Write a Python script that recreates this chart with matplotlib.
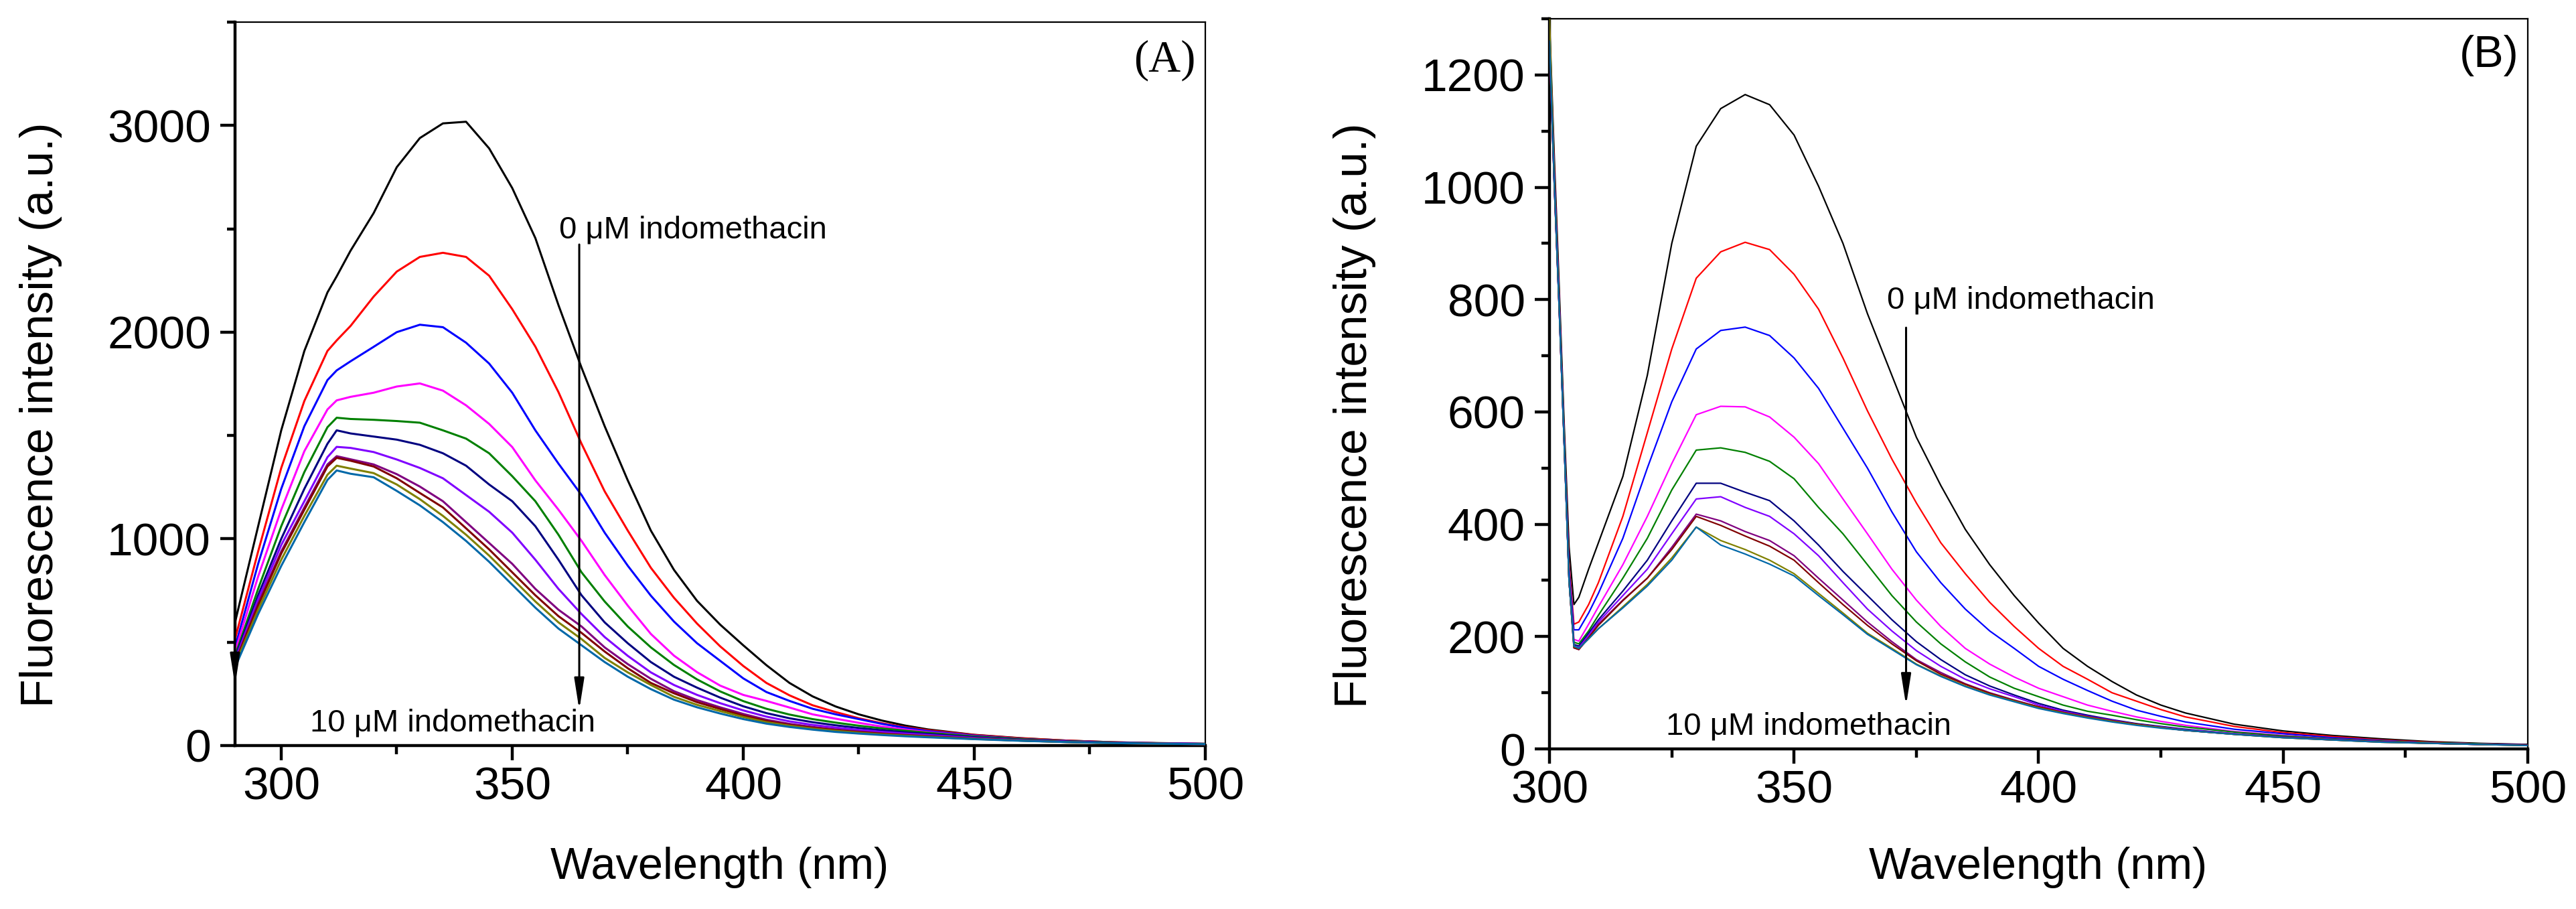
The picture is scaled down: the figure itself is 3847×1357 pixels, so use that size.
import matplotlib
matplotlib.use("Agg")
import matplotlib.pyplot as plt
from matplotlib.ticker import MultipleLocator

plt.rcParams['font.family'] = ['Liberation Sans', 'DejaVu Sans']

# ---------------- Panel A data ----------------
wl_a = [290, 295, 300, 305, 310, 312, 315, 320, 325, 330, 335, 340, 345, 350, 355, 360,
        365, 370, 375, 380, 385, 390, 395, 400, 405, 410, 415, 420, 425, 430, 435,
        440, 450, 460, 470, 480, 490, 500]

a_0uM = [596, 1061, 1525, 1909, 2192, 2270, 2394, 2576, 2798, 2939, 3010, 3018, 2889, 2697, 2455, 2131,
         1828, 1545, 1283, 1040, 850, 700, 585, 485, 389, 303, 238, 189, 151, 121, 97,
         78, 52, 36, 24, 16, 12, 9]
a_1uM = [515, 939, 1343, 1667, 1909, 1960, 2030, 2172, 2293, 2364, 2384, 2364, 2273, 2111, 1930, 1710,
         1460, 1230, 1040, 860, 715, 590, 480, 385, 303, 243, 195, 162, 132, 108, 89,
         74, 51, 35, 24, 16, 11, 8]
a_2uM = [475, 879, 1242, 1545, 1768, 1815, 1859, 1929, 2000, 2036, 2024, 1949, 1848, 1707, 1525, 1364,
         1212, 1030, 870, 725, 600, 495, 410, 325, 259, 216, 178, 151, 128, 105, 86,
         70, 48, 32, 22, 15, 11, 8]
a_3uM = [455, 818, 1141, 1424, 1626, 1670, 1687, 1707, 1737, 1752, 1717, 1646, 1556, 1444, 1283, 1141,
         990, 825, 677, 540, 435, 355, 290, 245, 216, 184, 151, 130, 110, 92, 78,
         65, 45, 30, 21, 14, 11, 8]
a_4uM = [434, 758, 1061, 1323, 1540, 1586, 1580, 1576, 1570, 1562, 1525, 1485, 1414, 1303, 1182, 1020,
         838, 697, 576, 475, 390, 320, 262, 215, 178, 150, 128, 111, 96, 83, 72,
         62, 44, 31, 21, 15, 10, 7]
a_5uM = [424, 727, 1000, 1242, 1460, 1525, 1510, 1495, 1480, 1455, 1414, 1354, 1263, 1182, 1061, 899,
         727, 596, 495, 404, 333, 280, 232, 190, 157, 132, 113, 98, 85, 74, 64,
         56, 40, 28, 20, 14, 10, 7]
a_6uM = [414, 707, 970, 1182, 1395, 1445, 1440, 1420, 1384, 1343, 1293, 1212, 1131, 1030, 899, 758,
         636, 525, 434, 354, 293, 245, 205, 170, 140, 117, 100, 87, 76, 66, 58,
         51, 37, 26, 19, 13, 10, 7]
a_7uM = [404, 687, 939, 1152, 1360, 1400, 1385, 1360, 1313, 1253, 1182, 1081, 980, 879, 758, 657,
         576, 475, 394, 323, 263, 220, 185, 153, 125, 105, 90, 78, 68, 59, 52,
         46, 34, 25, 18, 13, 9, 7]
a_8uM = [398, 677, 929, 1141, 1350, 1392, 1378, 1350, 1293, 1222, 1152, 1051, 949, 838, 727, 626,
         545, 455, 374, 303, 253, 210, 177, 145, 119, 100, 86, 74, 65, 57, 50,
         44, 33, 24, 17, 12, 9, 7]
a_9uM = [390, 657, 899, 1111, 1310, 1354, 1340, 1318, 1263, 1192, 1111, 1020, 919, 808, 697, 596,
         515, 424, 354, 293, 236, 197, 167, 138, 113, 96, 82, 71, 62, 54, 48,
         42, 32, 24, 17, 12, 9, 7]
a_10uM = [378, 636, 869, 1081, 1285, 1331, 1315, 1298, 1232, 1162, 1081, 990, 889, 778, 667, 566,
          485, 404, 333, 273, 222, 185, 155, 128, 106, 90, 77, 66, 58, 51, 45,
          40, 31, 23, 17, 12, 9, 7]

# ---------------- Panel B data ----------------
wl_b = [300, 301, 302, 303, 304, 305, 306, 308, 310, 315, 320, 325, 330, 335, 340,
        345, 350, 355, 360, 365, 370, 375, 380, 385, 390, 395, 400, 405, 410, 415,
        420, 425, 430, 440, 450, 460, 470, 480, 490, 500]

b_0uM = [1300, 1050, 820, 580, 360, 257, 270, 320, 367, 485, 665, 900, 1073, 1140, 1165,
         1147, 1093, 1002, 900, 775, 665, 555, 469, 391, 328, 273, 224, 179, 147, 120,
         96, 78, 64, 44, 32, 24, 18, 13, 10, 8]
b_1uM = [1280, 1030, 800, 560, 330, 222, 226, 257, 296, 414, 563, 712, 838, 885, 902,
         889, 845, 783, 696, 602, 516, 438, 367, 312, 261, 218, 179, 147, 124, 100,
         85, 70, 57, 40, 29, 22, 16, 12, 9, 7]
b_2uM = [1270, 1020, 795, 555, 320, 212, 212, 242, 277, 375, 500, 618, 712, 745, 751,
         736, 696, 642, 571, 500, 422, 351, 296, 249, 210, 179, 147, 124, 104, 85,
         69, 58, 48, 35, 27, 20, 15, 11, 9, 7]
b_3uM = [1265, 1010, 790, 550, 310, 195, 192, 222, 253, 328, 414, 508, 595, 610, 609,
         591, 555, 508, 445, 383, 320, 265, 218, 179, 151, 128, 108, 93, 78, 67,
         57, 49, 42, 31, 24, 18, 14, 11, 9, 7]
b_4uM = [1260, 1005, 785, 548, 305, 190, 187, 210, 238, 304, 375, 461, 532, 536, 528,
         512, 481, 430, 383, 328, 273, 226, 187, 155, 128, 108, 93, 78, 67, 60,
         52, 45, 39, 30, 23, 18, 14, 11, 9, 7]
b_5uM = [1255, 1000, 782, 545, 300, 186, 183, 206, 230, 281, 336, 406, 473, 473, 457,
         442, 406, 363, 316, 273, 230, 191, 159, 132, 112, 96, 81, 69, 60, 52,
         45, 40, 35, 27, 21, 17, 13, 10, 8, 7]
b_6uM = [1255, 1000, 780, 545, 300, 183, 180, 202, 226, 273, 320, 383, 445, 449, 430,
         414, 383, 344, 296, 249, 210, 175, 147, 124, 107, 93, 78, 67, 58, 51,
         44, 39, 34, 27, 21, 17, 13, 10, 8, 7]
b_7uM = [1250, 1000, 780, 545, 300, 180, 177, 198, 222, 265, 304, 359, 418, 406, 387,
         371, 344, 304, 265, 226, 191, 159, 136, 116, 100, 87, 75, 65, 56, 49,
         43, 38, 33, 26, 21, 16, 13, 10, 8, 7]
b_8uM = [1250, 1000, 780, 545, 300, 180, 177, 198, 220, 264, 304, 355, 414, 398, 379,
         361, 336, 296, 257, 220, 187, 157, 133, 115, 99, 86, 75, 65, 57, 50,
         44, 38, 33, 26, 20, 16, 12, 10, 8, 6]
b_9uM = [1300, 1010, 785, 548, 300, 182, 179, 196, 214, 253, 293, 340, 395, 371, 355,
         336, 312, 277, 242, 206, 179, 151, 130, 112, 97, 85, 73, 64, 56, 49,
         43, 38, 33, 26, 20, 16, 12, 10, 8, 6]
b_10uM = [1260, 1005, 782, 546, 300, 183, 179, 196, 214, 251, 290, 336, 395, 363, 347,
          329, 308, 273, 239, 204, 177, 150, 129, 111, 96, 84, 72, 63, 55, 48,
          42, 37, 33, 26, 20, 16, 12, 10, 8, 6]

colors = ['#000000', '#FF0000', '#0000FF', '#FF00FF', '#008000', '#000080',
          '#8000FF', '#800080', '#800000', '#808000', '#0068A8']

series_a = [a_0uM, a_1uM, a_2uM, a_3uM, a_4uM, a_5uM, a_6uM, a_7uM, a_8uM, a_9uM, a_10uM]
series_b = [b_0uM, b_1uM, b_2uM, b_3uM, b_4uM, b_5uM, b_6uM, b_7uM, b_8uM, b_9uM, b_10uM]

W, H = 3848, 1357
DPI = 200
fig = plt.figure(figsize=(W / DPI, H / DPI), dpi=DPI)

def frac_box(l, t, r, b):
    return [l / W, 1 - b / H, (r - l) / W, (b - t) / H]

axA = fig.add_axes(frac_box(351, 33, 1800, 1113))
axB = fig.add_axes(frac_box(2314, 28, 3775, 1118))

for y, c in zip(series_a, colors):
    axA.plot(wl_a, y, color=c, lw=1.1, zorder=3)
for y, c in zip(series_b, colors):
    axB.plot(wl_b, y, color=c, lw=0.8, zorder=3)

def style(ax, xlim, ylim, ymaj, ymin):
    ax.set_xlim(*xlim)
    ax.set_ylim(*ylim)
    ax.xaxis.set_major_locator(MultipleLocator(50))
    ax.xaxis.set_minor_locator(MultipleLocator(25))
    ax.yaxis.set_major_locator(MultipleLocator(ymaj))
    ax.yaxis.set_minor_locator(MultipleLocator(ymin))
    for s in ['left', 'bottom']:
        ax.spines[s].set_linewidth(1.6)
    for s in ['top', 'right']:
        ax.spines[s].set_linewidth(0.8)
    ax.tick_params(which='both', direction='out', top=False, right=False, width=1.6)
    ax.tick_params(which='major', length=8)
    ax.tick_params(which='minor', length=4.5)
    ax.tick_params(axis='x', which='major', labelsize=25, pad=3)
    ax.tick_params(axis='y', which='major', labelsize=25, pad=5)

style(axA, (290, 500), (0, 3500), 1000, 500)
style(axB, (300, 500), (0, 1300), 200, 100)

# Axis labels
fig.text(61 / W, 1 - 619 / H, 'Fluorescence intensity (a.u.)', rotation=90,
         ha='center', va='center', fontsize=25)
fig.text(2023 / W, 1 - 620 / H, 'Fluorescence intensity (a.u.)', rotation=90,
         ha='center', va='center', fontsize=25)
fig.text(1075 / W, 1 - 1295 / H, 'Wavelength (nm)', ha='center', va='center', fontsize=24)
fig.text(3044 / W, 1 - 1295 / H, 'Wavelength (nm)', ha='center', va='center', fontsize=24)

# Panel letters
axA.text(1739 / W, 1 - 90 / H, '(A)', transform=fig.transFigure, ha='center', va='center',
         fontsize=24, family=['Liberation Serif', 'DejaVu Serif'])
axB.text(3717 / W, 1 - 83 / H, '(B)', transform=fig.transFigure, ha='center', va='center',
         fontsize=24)

arrow_kw = dict(arrowstyle='-|>,head_length=1.4,head_width=0.22', color='black',
                lw=1.1, mutation_scale=10, shrinkA=0, shrinkB=0)

# Panel A annotations
axA.annotate('', xy=(364.5, 172), xytext=(364.5, 2424), arrowprops=arrow_kw)
axA.annotate('', xy=(290, 292), xytext=(290, 3500), arrowprops=arrow_kw, annotation_clip=False)
axA.text(360.2, 2455, '0 \u03bcM indomethacin', fontsize=17, ha='left', va='baseline')
axA.text(306.2, 71, '10 \u03bcM indomethacin', fontsize=17, ha='left', va='baseline')

# Panel B annotations
axB.annotate('', xy=(372.9, 77), xytext=(372.9, 750), arrowprops=arrow_kw)
axB.text(369.0, 784, '0 \u03bcM indomethacin', fontsize=17, ha='left', va='baseline')
axB.text(323.8, 26, '10 \u03bcM indomethacin', fontsize=17, ha='left', va='baseline')

fig.savefig('out.png', dpi=DPI)
